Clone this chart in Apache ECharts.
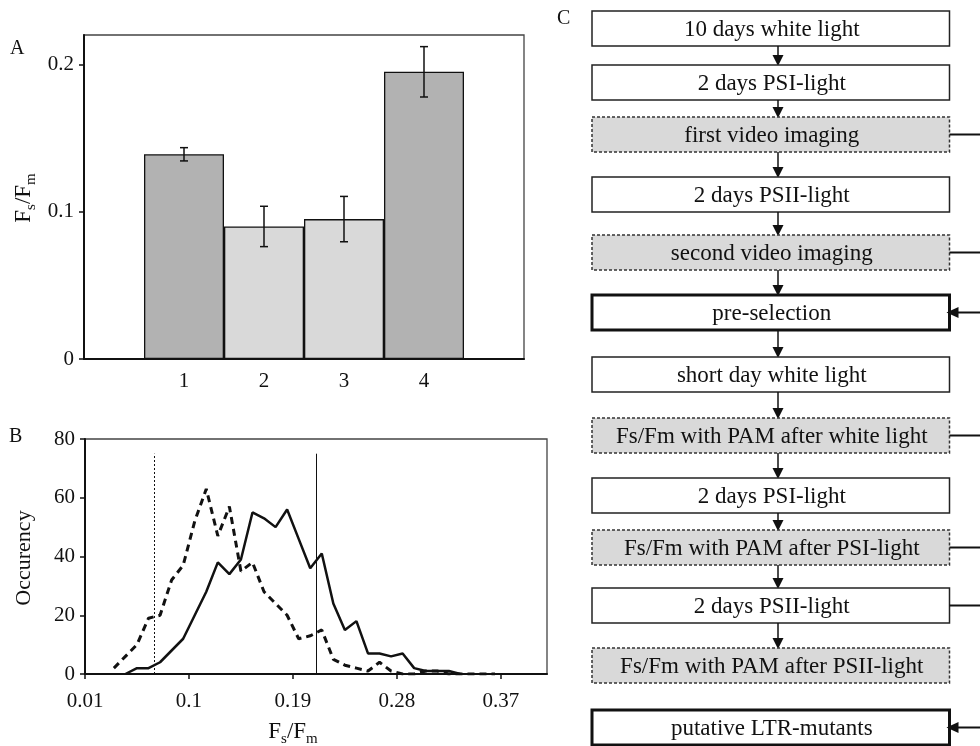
<!DOCTYPE html>
<html lang="en">
<head>
<meta charset="UTF-8">
<title>LTR mutant screen</title>
<script src="https://cdn.jsdelivr.net/npm/echarts@6/dist/echarts.min.js"></script>
<style>
  html, body { margin: 0; padding: 0; background: #fff; }
  #main { width: 980px; height: 746px; }
</style>
</head>
<body>
<div id="main"></div>
<script>
// ---- panel A: Fs/Fm per line (mean +- error)
const lineNames = ['1', '2', '3', '4'];
const lineX = [1, 2, 3, 4];
const ratioMean = [0.139, 0.090, 0.095, 0.195];
const ratioErr = [0.0045, 0.0137, 0.0154, 0.0171];
const yTicksA = [0, 0.1, 0.2];

// ---- panel B: histogram of Fs/Fm (bin centres)
const binCenters = [0.035, 0.045, 0.055, 0.065, 0.075, 0.085, 0.095, 0.105, 0.115, 0.125,
  0.135, 0.145, 0.155, 0.165, 0.175, 0.185, 0.195, 0.205, 0.215, 0.225,
  0.235, 0.245, 0.255, 0.265, 0.275, 0.285, 0.295, 0.305, 0.315, 0.325,
  0.335, 0.345, 0.355, 0.365];
const countSolid = [null, 0, 2, 2, 4, 8, 12, 20, 28, 38,
  34, 39, 55, 53, 50, 56, 46, 36, 41, 24,
  15, 18, 7, 7, 6, 7, 2, 1, 1, 1,
  0, null, null, null];
const countDashed = [2, 6, 10, 19, 20, 32, 37, 52, 63, 47,
  57, 35, 38, 28, 24, 20, 12, 13, 15, 5,
  3, 2, 1, 4, 1, 0, 0, 1, 1, 0,
  0, 0, 0, 0];
const xTicksB = [0.01, 0.1, 0.19, 0.28, 0.37];
const cutoffs = [0.07, 0.21];
const cutoffTop = 75;

// ---- panel C: screening procedure
const steps = ['10 days white light', '2 days PSI-light', 'first video imaging', '2 days PSII-light',
  'second video imaging', 'pre-selection', 'short day white light', 'Fs/Fm with PAM after white light',
  '2 days PSI-light', 'Fs/Fm with PAM after PSI-light', '2 days PSII-light',
  'Fs/Fm with PAM after PSII-light', 'putative LTR-mutants'];
const stepKind = ['plain', 'plain', 'screen', 'plain', 'screen', 'select', 'plain', 'screen',
  'plain', 'screen', 'plain', 'screen', 'select'];
const feedOut = [2, 4, 7, 9, 10];
const feedIn = [5, 12];

const SERIF = '"Liberation Serif", "Times New Roman", serif';
const INK = '#111';

// layout of the flow chart
const boxLeft = 592, boxW = 357.5, boxH = 35, arrowX = 778;
const stepPitch = [54, 52, 60, 58, 60, 62, 61, 60, 52, 58, 60, 62];
const boxTop = [11];
stepPitch.forEach(p => boxTop.push(boxTop[boxTop.length - 1] + p));

const kindStyle = {
  plain: { fill: '#fff', stroke: '#222', lineWidth: 1.5 },
  screen: { fill: '#d9d9d9', stroke: '#333', lineWidth: 1.5, lineDash: [3, 2] },
  select: { fill: '#fff', stroke: INK, lineWidth: 3 }
};

const flow = [];
steps.forEach((s, i) => {
  const top = boxTop[i];
  flow.push({ type: 'rect', shape: { x: boxLeft, y: top, width: boxW, height: boxH },
    style: Object.assign({}, kindStyle[stepKind[i]]) });
  flow.push({ type: 'text', x: boxLeft + boxW / 2 + 1, y: top + boxH / 2 + 1,
    style: { text: s, fill: INK, font: '23px ' + SERIF,
      align: 'center', verticalAlign: 'middle', textAlign: 'center', textVerticalAlign: 'middle' } });
  if (i < steps.length - 1 && i !== 11) {
    const nt = boxTop[i + 1];
    flow.push({ type: 'line', shape: { x1: arrowX, y1: top + boxH, x2: arrowX, y2: nt - 7 },
      style: { stroke: INK, lineWidth: 1.5 } });
    flow.push({ type: 'polygon', shape: { points: [[arrowX - 5.5, nt - 10], [arrowX + 5.5, nt - 10], [arrowX, nt + 1]] },
      style: { fill: INK } });
  }
});
feedOut.forEach(i => {
  const cy = boxTop[i] + boxH / 2;
  flow.push({ type: 'line', shape: { x1: boxLeft + boxW, y1: cy, x2: 980, y2: cy },
    style: { stroke: INK, lineWidth: 2 } });
});
feedIn.forEach(i => {
  const cy = boxTop[i] + boxH / 2;
  const xr = boxLeft + boxW;
  flow.push({ type: 'line', shape: { x1: xr + 6, y1: cy, x2: 980, y2: cy },
    style: { stroke: INK, lineWidth: 2 } });
  flow.push({ type: 'polygon', shape: { points: [[xr - 3, cy], [xr + 9, cy - 5.5], [xr + 9, cy + 5.5]] },
    style: { fill: INK } });
});

function fsFm(x, y, rot) {
  return { type: 'text', x: x, y: y, rotation: rot,
    style: { text: '{m|F}{s|s}{m|/F}{s|m}', align: 'center', verticalAlign: 'middle',
      textAlign: 'center', textVerticalAlign: 'middle',
      rich: {
        m: { fontSize: 23, fontFamily: SERIF, lineHeight: 30, fill: INK, color: INK },
        s: { fontSize: 15, fontFamily: SERIF, lineHeight: 15, padding: [15, 0, 0, 0], fill: INK, color: INK }
      } } };
}
function letter(t, x, y) {
  return { type: 'text', x: x, y: y,
    style: { text: t, fill: INK, font: '20px ' + SERIF, align: 'left', verticalAlign: 'middle',
      textAlign: 'left', textVerticalAlign: 'middle' } };
}

const barFill = ['#b2b2b2', '#d9d9d9', '#d9d9d9', '#b2b2b2'];
const tickFont = { fontSize: 21, fontFamily: SERIF, color: INK };
const axisInk = { lineStyle: { color: INK, width: 2 } };

const option = {
  animation: false,
  textStyle: { fontFamily: SERIF },
  grid: [
    { left: 84, top: 35, width: 440, height: 324, show: true, borderColor: '#444', borderWidth: 1.3,
      outerBoundsMode: 'none', containLabel: false },
    { left: 85, top: 439, width: 462, height: 235, show: true, borderColor: '#444', borderWidth: 1.3,
      outerBoundsMode: 'none', containLabel: false }
  ],
  xAxis: [
    { gridIndex: 0, type: 'value', min: -0.25, max: 5.25, splitLine: { show: false },
      axisLine: Object.assign({ onZero: false }, axisInk), axisTick: { show: false },
      axisLabel: Object.assign({ customValues: lineX, margin: 12,
        formatter: v => lineNames[lineX.indexOf(v)] }, tickFont) },
    { gridIndex: 1, type: 'value', min: 0.01, max: 0.41, splitLine: { show: false },
      axisLine: Object.assign({ onZero: false }, axisInk),
      axisTick: { customValues: xTicksB, length: 5, lineStyle: { color: INK, width: 1.5 } },
      axisLabel: Object.assign({ customValues: xTicksB, margin: 17, formatter: v => String(v) }, tickFont) }
  ],
  yAxis: [
    { gridIndex: 0, type: 'value', min: 0, max: 0.22, splitLine: { show: false },
      axisLine: Object.assign({ show: true, onZero: false }, axisInk),
      axisTick: { show: true, customValues: yTicksA, length: 5, lineStyle: { color: INK, width: 1.5 } },
      axisLabel: Object.assign({ customValues: yTicksA, margin: 10 }, tickFont) },
    { gridIndex: 1, type: 'value', min: 0, max: 80, interval: 20, splitLine: { show: false },
      axisLine: Object.assign({ show: true, onZero: false }, axisInk),
      axisTick: { show: true, length: 5, lineStyle: { color: INK, width: 1.5 } },
      axisLabel: Object.assign({ margin: 10 }, tickFont) }
  ],
  series: [
    { type: 'bar', xAxisIndex: 0, yAxisIndex: 0, barWidth: 80,
      itemStyle: { borderColor: INK, borderWidth: 1.3 },
      data: lineX.map((x, i) => ({ value: [x, ratioMean[i]], itemStyle: { color: barFill[i] } })) },
    { type: 'custom', xAxisIndex: 0, yAxisIndex: 0, z: 5,
      data: lineX.map((x, i) => [x, ratioMean[i] - ratioErr[i], ratioMean[i] + ratioErr[i]]),
      renderItem: (params, api) => {
        const lo = api.coord([api.value(0), api.value(1)]);
        const hi = api.coord([api.value(0), api.value(2)]);
        const st = { stroke: INK, lineWidth: 1.5 };
        return { type: 'group', children: [
          { type: 'line', shape: { x1: lo[0], y1: lo[1], x2: hi[0], y2: hi[1] }, style: st },
          { type: 'line', shape: { x1: lo[0] - 4, y1: lo[1], x2: lo[0] + 4, y2: lo[1] }, style: st },
          { type: 'line', shape: { x1: hi[0] - 4, y1: hi[1], x2: hi[0] + 4, y2: hi[1] }, style: st }
        ] };
      } },
    { type: 'line', xAxisIndex: 1, yAxisIndex: 1, symbol: 'none',
      lineStyle: { color: INK, width: 3, type: [7, 5] },
      data: binCenters.map((x, i) => [x, countDashed[i]]).filter(p => p[1] !== null) },
    { type: 'line', xAxisIndex: 1, yAxisIndex: 1, symbol: 'none',
      lineStyle: { color: INK, width: 2.5 },
      data: binCenters.map((x, i) => [x, countSolid[i]]).filter(p => p[1] !== null),
      markLine: { symbol: 'none', silent: true, label: { show: false },
        data: [
          [{ coord: [cutoffs[0], 0], lineStyle: { color: INK, width: 1, type: [2, 2] } }, { coord: [cutoffs[0], cutoffTop] }],
          [{ coord: [cutoffs[1], 0], lineStyle: { color: INK, width: 1, type: 'solid' } }, { coord: [cutoffs[1], cutoffTop] }]
        ] } }
  ],
  graphic: [
    letter('A', 10, 49), letter('B', 9, 437), letter('C', 557, 19),
    fsFm(24, 198, Math.PI / 2),
    { type: 'text', x: 24, y: 558, rotation: Math.PI / 2,
      style: { text: 'Occurency', fill: INK, font: '22px ' + SERIF, align: 'center', verticalAlign: 'middle',
        textAlign: 'center', textVerticalAlign: 'middle' } },
    fsFm(293, 732, 0)
  ].concat(flow)
};

const chart = echarts.init(document.getElementById('main'));
chart.setOption(option);
</script>
</body>
</html>
